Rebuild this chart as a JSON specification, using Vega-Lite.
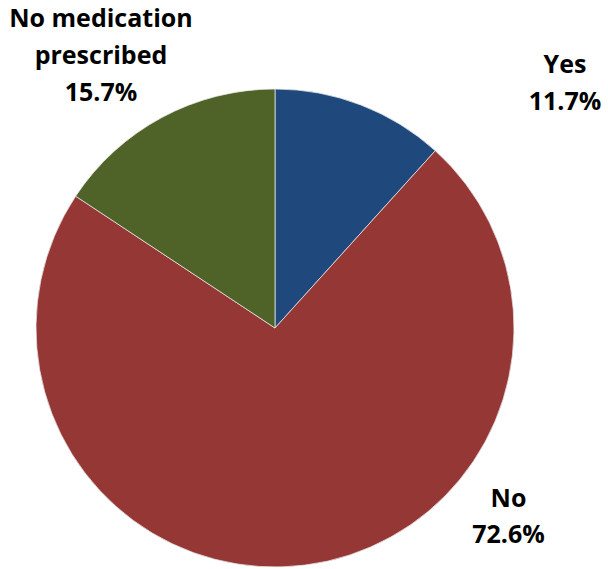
{
  "$schema": "https://vega.github.io/schema/vega-lite/v6.json",
  "width": 550,
  "height": 482,
  "autosize": {"type": "none"},
  "padding": {"left": 0, "top": 87, "right": 58, "bottom": 0},
  "background": "white",
  "view": {"stroke": null},
  "data": {
    "values": [
      {"answer": "Yes", "display": "Yes", "share": 11.7, "k": 1},
      {"answer": "No", "display": "No", "share": 72.6, "k": 2},
      {"answer": "No medication prescribed", "display": "No medication\nprescribed", "share": 15.7, "k": 3}
    ]
  },
  "transform": [
    {"calculate": "datum.display + '\\n' + format(datum.share, '.1f') + '%'", "as": "lbl"}
  ],
  "layer": [
    {
      "mark": {"type": "arc", "outerRadius": 239, "stroke": "#e8e8e8", "strokeWidth": 0.75},
      "encoding": {
        "theta": {"field": "share", "type": "quantitative", "stack": true, "scale": {"domain": [0, 100]}},
        "order": {"field": "k", "type": "quantitative"},
        "color": {
          "field": "answer",
          "type": "nominal",
          "scale": {"domain": ["Yes", "No", "No medication prescribed"], "range": ["#1F497D", "#953735", "#4F6228"]},
          "legend": null
        }
      }
    },
    {
      "transform": [{"filter": "datum.answer === 'Yes'"}],
      "mark": {"type": "text", "radius": 391.5, "theta": 0.834, "font": "Open Sans", "fontWeight": "bold", "fontSize": 25, "lineHeight": 37, "lineBreak": "\n", "align": "center", "baseline": "middle", "color": "black"},
      "encoding": {"text": {"field": "lbl"}}
    },
    {
      "transform": [{"filter": "datum.answer === 'No'"}],
      "mark": {"type": "text", "radius": 289.4, "theta": 2.2028, "font": "Open Sans", "fontWeight": "bold", "fontSize": 25, "lineHeight": 36, "lineBreak": "\n", "align": "center", "baseline": "middle", "color": "black"},
      "encoding": {"text": {"field": "lbl"}}
    },
    {
      "transform": [{"filter": "datum.answer === 'No medication prescribed'"}],
      "mark": {"type": "text", "radius": 354.6, "theta": -0.513, "font": "Open Sans", "fontWeight": "bold", "fontSize": 25, "lineHeight": 37, "lineBreak": "\n", "align": "center", "baseline": "middle", "color": "black"},
      "encoding": {"text": {"field": "lbl"}}
    }
  ]
}
